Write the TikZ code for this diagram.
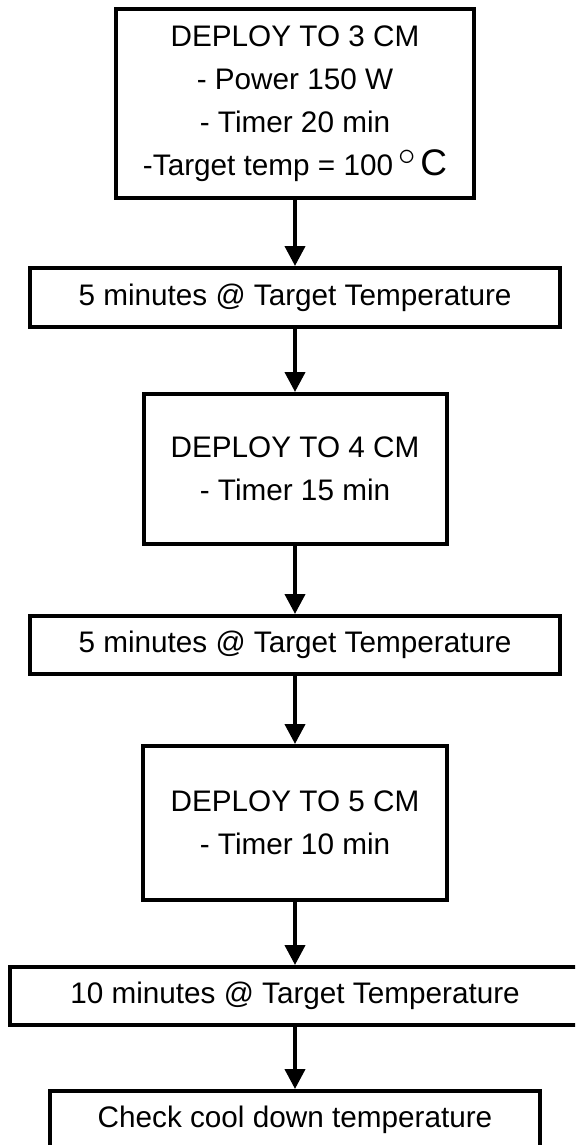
\documentclass[tikz,border=0pt]{standalone}
\usepackage{fontspec}
\setmainfont{Liberation Sans}
\usetikzlibrary{arrows.meta}

\begin{document}
\begin{tikzpicture}[x=0.5pt,y=0.5pt,
    box/.style={draw, line width=2pt, align=center, inner sep=0pt,
                font=\fontsize{14.85}{21.5}\selectfont},
    arr/.style={line width=2pt, -{Triangle[width=10pt,length=10pt]}}]
  \useasboundingbox (0,0) rectangle (575,-1145);
  \clip (0,0) rectangle (575,-1145);

  \node[box, minimum width=179pt, minimum height=94.5pt] (dep3) at (295,-103.5)
    {DEPLOY TO 3 CM\\- Power 150 W\\- Timer 20 min\\-Target temp = 100\,\raisebox{5pt}{\fontsize{16}{16}\selectfont$\circ$}\,{\fontsize{18.5}{21.5}\selectfont C}};
  \node[box, minimum width=265pt, minimum height=29.5pt] (hold1) at (295,-297.5)
    {5 minutes @ Target Temperature};
  \node[box, minimum width=151.5pt, minimum height=75pt] (dep4) at (295,-469)
    {DEPLOY TO 4 CM\\- Timer 15 min};
  \node[box, minimum width=265pt, minimum height=29pt] (hold2) at (295,-645)
    {5 minutes @ Target Temperature};
  \node[box, minimum width=152pt, minimum height=77pt] (dep5) at (295,-823)
    {DEPLOY TO 5 CM\\- Timer 10 min};
  \node[box, minimum width=285pt, minimum height=29pt] (hold3) at (295,-996)
    {10 minutes @ Target Temperature};
  \node[box, minimum width=245pt, minimum height=29pt] (cool) at (295,-1120)
    {Check cool down temperature};

  % Pfeile
  \begin{scope}[arr]
    \draw (dep3) -- (hold1);
    \draw (hold1) -- (dep4);
    \draw (dep4) -- (hold2);
    \draw (hold2) -- (dep5);
    \draw (dep5) -- (hold3);
    \draw (hold3) -- (cool);
  \end{scope}

\end{tikzpicture}
\end{document}
